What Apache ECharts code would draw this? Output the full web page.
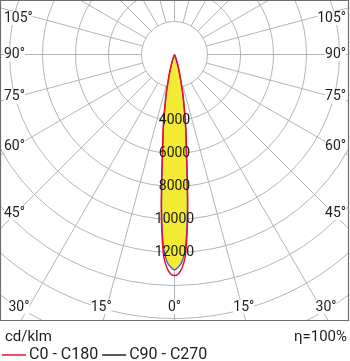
<!DOCTYPE html>
<html><head><meta charset="utf-8">
<script src="https://cdn.jsdelivr.net/npm/echarts@6/dist/echarts.min.js"></script>
<style>html,body{margin:0;padding:0;background:#fff}#c{width:350px;height:361px}</style>
</head><body><div id="c"></div>
<script>
// ---- data ----
var angles = [0, 1, 2, 3, 4, 5, 6, 7, 8, 9, 10, 12, 14, 16, 18, 20, 25, 30, 40, 50, 60, 70, 80, 90];
var c0c180 = [13400, 13300, 12950, 12300, 10900, 9200, 7400, 6000, 5100, 4300, 3550, 2420, 1450, 900, 520, 280, 80, 30, 10, 0, 0, 0, 0, 0];
var c90c270 = [13050, 12900, 12600, 11950, 10700, 9000, 7250, 5850, 4950, 4200, 3450, 2400, 1450, 900, 520, 280, 80, 30, 10, 0, 0, 0, 0, 0];
var radiusLabels = [4000, 6000, 8000, 10000, 12000];
var degreeLabels = [105, 90, 75, 60, 45, 30, 15, 0];
var seriesNames = ['C0 - C180', 'C90 - C270'];
var unitText = 'cd/klm';
var effText = 'η=100%';

// ---- layout ----
var CX = 174.5, CY = 54.5, PX_PER_STEP = 33, STEP = 2000, NSTEP = 10;
var BOX = {x: 0.5, y: 0.5, w: 348, h: 320};
var FONT = 'Roboto, "DejaVu Sans", sans-serif';

function mirror(vals) {
  var pts = [];
  for (var i = angles.length - 1; i >= 1; i--) pts.push([vals[i], 360 - angles[i]]);
  for (var j = 0; j < angles.length; j++) pts.push([vals[j], angles[j]]);
  return pts;
}

var chart = echarts.init(document.getElementById('c'), null, {renderer: 'canvas'});

var angleCommon = {type: 'value', min: 0, max: 360, startAngle: -90, clockwise: true, interval: 15};

var graphics = [];
var rad = Math.PI / 180;
degreeLabels.forEach(function (a) {
  var txt = a + '°';
  var style = {text: txt, font: '14px ' + FONT, fill: '#1e1e1e', backgroundColor: '#fff', verticalAlign: 'middle'};
  if (a >= 45) {
    var y = CY + (CX - 16) * Math.cos(a * rad) / Math.sin(a * rad);
    y = Math.max(y, 18);
    graphics.push({type: 'text', z: 70, x: 4, y: y, style: Object.assign({}, style, {align: 'left'})});
    graphics.push({type: 'text', z: 70, x: 346, y: y, style: Object.assign({}, style, {align: 'right'})});
  } else {
    var d = (BOX.y + BOX.h - CY) * Math.tan(a * rad);
    var sides = a === 0 ? [0] : [-1, 1];
    sides.forEach(function (s) {
      var x = CX + s * d - (a === 0 ? 0 : 2);
      x = Math.min(Math.max(x, 16.5), 329);
      graphics.push({type: 'text', z: 70, x: x, y: 307, style: Object.assign({}, style, {align: 'center'})});
    });
  }
});
graphics.push({type: 'rect', z: 50, silent: true, shape: {x: 0, y: BOX.y + BOX.h, width: 350, height: 361}, style: {fill: '#fff'}});
graphics.push({type: 'rect', z: 50, silent: true, shape: {x: BOX.x + BOX.w, y: 0, width: 10, height: 330}, style: {fill: '#fff'}});
graphics.push({type: 'rect', z: 60, silent: true, shape: {x: BOX.x, y: BOX.y, width: BOX.w, height: BOX.h}, style: {fill: null, stroke: '#6e6e6e', lineWidth: 1.2}});
graphics.push({type: 'text', z: 70, x: 5, y: 337, style: {text: unitText, font: '15px ' + FONT, fill: '#1e1e1e', verticalAlign: 'middle', align: 'left'}});
graphics.push({type: 'text', z: 70, x: 347, y: 337, style: {text: effText, font: '15px ' + FONT, fill: '#1e1e1e', verticalAlign: 'middle', align: 'right'}});

var option = {
  animation: false,
  polar: [
    {center: [CX, CY], radius: [PX_PER_STEP, PX_PER_STEP * NSTEP]},
    {center: [CX, CY], radius: [0, PX_PER_STEP * NSTEP]}
  ],
  angleAxis: [
    Object.assign({polarIndex: 0, axisLine: {show: false}, axisTick: {show: false}, axisLabel: {show: false},
      splitLine: {show: true, lineStyle: {color: '#b4b4b4', width: 1}}}, angleCommon),
    Object.assign({polarIndex: 1, axisLine: {show: false}, axisTick: {show: false}, axisLabel: {show: false},
      splitLine: {show: false}}, angleCommon)
  ],
  radiusAxis: [
    {polarIndex: 0, type: 'value', min: STEP, max: STEP * NSTEP, interval: STEP,
      axisLine: {show: false}, axisTick: {show: false}, axisLabel: {show: false},
      splitLine: {show: true, lineStyle: {color: '#b4b4b4', width: 1}}},
    {polarIndex: 1, type: 'value', min: 0, max: STEP * NSTEP, interval: STEP, z: 10,
      axisLine: {show: false}, axisTick: {show: false}, splitLine: {show: false},
      axisLabel: {show: true, margin: 0, align: 'center', verticalAlign: 'middle', color: '#1a1a1a', fontSize: 14, fontFamily: FONT,
        formatter: function (v) { return radiusLabels.indexOf(+v) >= 0 ? String(v) : ''; }}}
  ],
  legend: {
    z: 100, left: 2, top: 347, padding: 0, itemWidth: 24, itemHeight: 1.5, itemGap: 4, icon: 'rect',
    textStyle: {fontSize: 16, color: '#1e1e1e', fontFamily: FONT, padding: [0, 0, 0, -2]},
    data: [{name: seriesNames[0], itemStyle: {color: '#e8102e'}}, {name: seriesNames[1], itemStyle: {color: '#222'}}]
  },
  graphic: graphics,
  series: [
    {name: seriesNames[1], type: 'line', coordinateSystem: 'polar', polarIndex: 1, data: mirror(c90c270),
      symbol: 'none', smooth: 0.3, z: 3, color: '#3a5bd0',
      lineStyle: {color: '#3a5bd0', width: 1.3}, areaStyle: {color: '#f2ea33', opacity: 1}},
    {name: seriesNames[0], type: 'line', coordinateSystem: 'polar', polarIndex: 1, data: mirror(c0c180),
      symbol: 'none', smooth: 0.3, z: 4, color: '#e8102e',
      lineStyle: {color: '#e8102e', width: 1.5}}
  ]
};
chart.setOption(option);
</script></body></html>
